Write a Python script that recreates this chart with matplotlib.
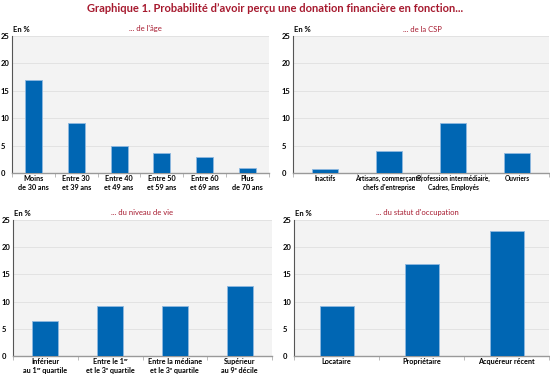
import matplotlib.pyplot as plt
import numpy as np

plt.rcParams['font.family'] = ['Lato', 'DejaVu Sans']

age_labels = ["Moins\nde 30 ans", "Entre 30\net 39 ans", "Entre 40\net 49 ans",
              "Entre 50\net 59 ans", "Entre 60\net 69 ans", "Plus\nde 70 ans"]
age_values = [17.0, 9.1, 4.9, 3.7, 3.0, 0.9]

csp_labels = ["Inactifs", "Artisans, commerçants,\nchefs d'entreprise",
              "Profession intermédiaire,\nCadres, Employés", "Ouvriers"]
csp_values = [0.7, 4.1, 9.1, 3.7]

niveau_labels = ["Inférieur\nau 1ᵉʳ quartile", "Entre le 1ᵉʳ\net le 3ᵉ quartile",
                 "Entre la médiane\net le 3ᵉ quartile", "Supérieur\nau 9ᵉ décile"]
niveau_values = [6.5, 9.1, 9.1, 12.8]

statut_labels = ["Locataire", "Propriétaire", "Acquéreur récent"]
statut_values = [9.1, 16.9, 23.0]

W, H = 550, 374
RED = "#a6192e"
BLUE = "#0066b3"

fig = plt.figure(figsize=(5.5, 3.74), dpi=100)
fig.patch.set_facecolor("white")


def px_axes(x0, y0, x1, y1):
    # pixel box (top-left origin) -> figure coords
    return fig.add_axes([x0 / W, 1 - y1 / H, (x1 - x0) / W, (y1 - y0) / H])


def panel(box, labels, values, subtitle, sub_x, lab_size=5.2):
    ax = px_axes(*box)
    x = np.arange(len(values))
    ax.set_facecolor("#f3f3f3")
    ax.bar(x, values, width=0.4, color=BLUE, edgecolor="#8fb8e0", linewidth=0.6, zorder=3)
    ax.set_ylim(0, 25)
    ax.set_xlim(-0.5, len(values) - 0.5)
    ax.set_yticks([0, 5, 10, 15, 20, 25])
    ax.set_yticklabels(["0", "5", "10", "15", "20", "25"], fontsize=5.5, fontweight="bold")
    ax.yaxis.grid(True, color="#e2e2e2", linewidth=0.7, zorder=0)
    ax.set_xticks(x)
    ax.set_xticklabels(labels, fontsize=lab_size, fontweight="bold", linespacing=1.25)
    ax.tick_params(axis="x", length=0, pad=1.5)
    ax.set_xticks(np.arange(len(values) + 1) - 0.5, minor=True)
    ax.tick_params(axis="x", which="minor", length=3, color="#b0b0b0", width=0.6)
    ax.tick_params(axis="y", length=0, pad=8)
    for lab in ax.get_yticklabels():
        lab.set_horizontalalignment("left")
    ax.spines["top"].set_visible(False)
    ax.spines["right"].set_visible(False)
    ax.spines["left"].set_color("#555555")
    ax.spines["bottom"].set_color("#999999")
    ax.spines["left"].set_linewidth(0.8)
    ax.spines["bottom"].set_linewidth(1.0)
    fig.text((box[0] + 1) / W, 1 - (box[1] - 6) / H, "En %", fontsize=5.5,
             fontweight="bold", ha="left", va="center")
    fig.text(sub_x / W, 1 - (box[1] - 7) / H, subtitle, fontsize=5.5,
             color=RED, ha="center", va="center")
    return ax


panel((12, 36, 269, 173), age_labels, age_values, "... de l'âge", 145)
panel((293, 36, 549, 173), csp_labels, csp_values, "... de la CSP", 422, lab_size=4.7)
panel((13, 220, 272, 356), niveau_labels, niveau_values, "... du niveau de vie", 142)
panel((294, 220, 549, 356), statut_labels, statut_values, "... du statut d'occupation", 417)

fig.text(0.5, 1 - 8 / H,
         "Graphique 1. Probabilité d’avoir perçu une donation financière en fonction...",
         fontsize=8, fontweight="bold", color=RED, ha="center", va="center")

fig.savefig("out.png", dpi=100)
